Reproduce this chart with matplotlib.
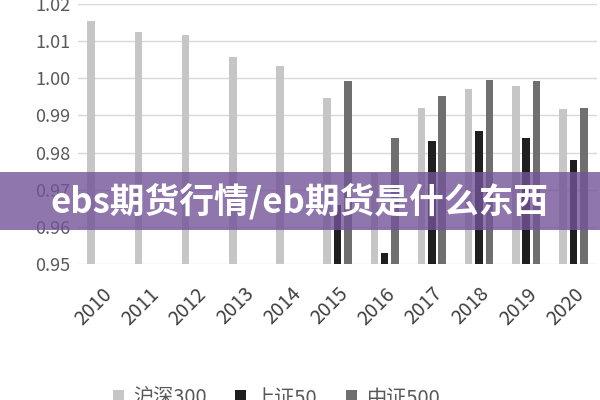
import matplotlib
matplotlib.use('Agg')
import matplotlib.pyplot as plt
from matplotlib.patches import Patch, Rectangle
import numpy as np

plt.rcParams['font.family'] = ['Noto Sans CJK SC', 'DejaVu Sans']

years = ['2010', '2011', '2012', '2013', '2014', '2015', '2016', '2017', '2018', '2019', '2020']
hs300 = [1.0154, 1.0124, 1.0116, 1.0057, 1.0032, 0.9946, 0.9746, 0.9919, 0.9970, 0.9978, 0.9916]
sz50 = [np.nan, np.nan, np.nan, np.nan, np.nan, 0.9660, 0.9530, 0.9830, 0.9857, 0.9838, 0.9780]
zz500 = [np.nan, np.nan, np.nan, np.nan, np.nan, 0.9992, 0.9840, 0.9951, 0.9995, 0.9992, 0.9919]
series_names = ['沪深300', '上证50', '中证500']
colors = ['#c6c6c6', '#1f1f1f', '#6f6f6f']

base = 0.95
fig = plt.figure(figsize=(6, 4), dpi=100)
ax = fig.add_axes([0.13, 0.34, 0.865, 0.65])

x = np.arange(len(years))
w = 0.16
off = 0.22
for i, (vals, c) in enumerate(zip([hs300, sz50, zz500], colors)):
    v = np.array(vals)
    ax.bar(x + (i - 1) * off, v - base, bottom=base, width=w, color=c, zorder=3)

ax.set_xlim(-0.5, len(years) - 0.5)
ax.set_ylim(0.95, 1.02)
ax.set_yticks(np.arange(0.95, 1.0201, 0.01))
ax.set_yticklabels([f'{t:.2f}' for t in np.arange(0.95, 1.0201, 0.01)])
ax.grid(axis='y', color='#d9d9d9', linewidth=1.0, zorder=0)
for s in ax.spines.values():
    s.set_visible(False)
ax.tick_params(axis='y', length=0, labelsize=13, labelcolor='#595959', pad=31)
for lbl in ax.get_yticklabels():
    lbl.set_horizontalalignment('left')
ax.tick_params(axis='x', length=0, labelsize=14, labelcolor='#404040', pad=14)
ax.set_xticks(x)
ax.set_xticklabels(years, rotation=45, ha='right', va='top', rotation_mode='anchor')

handles = [Patch(facecolor=c, edgecolor='none') for c in colors]
fig.legend(handles, series_names, loc='center', bbox_to_anchor=(0.46, 0.005),
           ncol=3, frameon=False, fontsize=14.5, handlelength=0.55, handleheight=0.55,
           columnspacing=1.4, handletextpad=0.45, labelcolor='#595959')

# banner overlay
fig.patches.append(Rectangle((0, 0.425), 1, 0.145, transform=fig.transFigure,
                             facecolor=(0.45, 0.33, 0.6), alpha=0.8, edgecolor='none', zorder=10))
fig.text(0.5, 0.4975, 'ebs期货行情/eb期货是什么东西', ha='center', va='center',
         fontsize=25, fontweight='bold', color='white', zorder=11)

fig.savefig('out.png', dpi=100, facecolor='white')
